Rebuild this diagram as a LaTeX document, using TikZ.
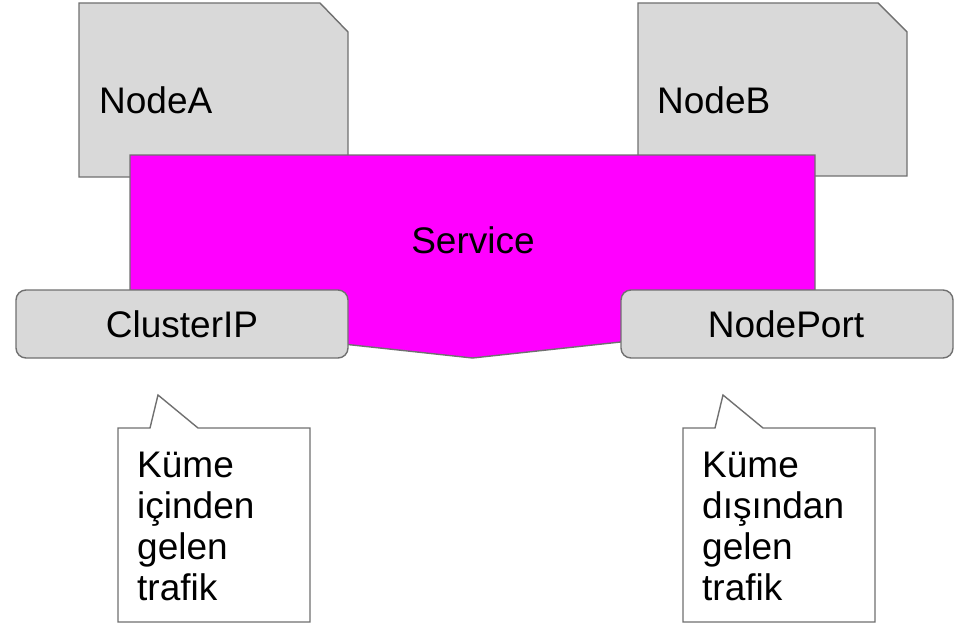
\documentclass[tikz,border=0pt]{standalone}
\usepackage{fontspec}
\setmainfont{Liberation Sans}
\definecolor{edgegray}{RGB}{112,112,112}
\definecolor{boxgray}{RGB}{217,217,217}
\definecolor{svcmagenta}{RGB}{255,0,255}
\begin{document}
\begin{tikzpicture}[x=1pt,y=-1pt,
  outline/.style={draw=edgegray,line width=1.4pt,line join=miter},
  hostbox/.style={outline,fill=boxgray},
  servicebox/.style={outline,fill=svcmagenta},
  portbox/.style={outline,fill=boxgray,rounded corners=10pt},
  calloutbox/.style={outline,fill=white},
  label/.style={inner sep=0pt,font=\fontsize{37}{41}\selectfont},
  note/.style={label,align=left,anchor=base west}]
\useasboundingbox (0,0) rectangle (963,634);

% hosts with a clipped top-right corner
\draw[hostbox] (79,3) -- (320,3) -- (348,32) -- (348,177) -- (79,177) -- cycle;
\node[label,anchor=base west] (nodeA) at (99,113) {NodeA};
\draw[hostbox] (638,3) -- (878,3) -- (907,32) -- (907,176) -- (638,176) -- cycle;
\node[label,anchor=base west] (nodeB) at (657,113) {NodeB};

% service: pentagon pointing down
\draw[servicebox] (130,155) -- (815,155) -- (815,321) -- (472.5,358) -- (130,321) -- cycle;
\node[label] (service) at (473,240) {Service};

% service types
\draw[portbox] (16,290) rectangle (348,358);
\node[label] (clusterip) at (182,324) {ClusterIP};
\draw[portbox] (621,290) rectangle (953,358);
\node[label] (nodeport) at (786,324) {NodePort};

% speech bubbles (the node's base is the baseline of its last line)
\draw[calloutbox] (118,428) -- (150,428) -- (158,395) -- (198,428) -- (310,428) -- (310,622) -- (118,622) -- cycle;
\node[note] (insideNote) at (137,600) {Küme\\içinden\\gelen\\trafik};
\draw[calloutbox] (683,428) -- (715,428) -- (723,395) -- (763,428) -- (875,428) -- (875,622) -- (683,622) -- cycle;
\node[note] (outsideNote) at (702,600) {Küme\\dışından\\gelen\\trafik};
\end{tikzpicture}
\end{document}
